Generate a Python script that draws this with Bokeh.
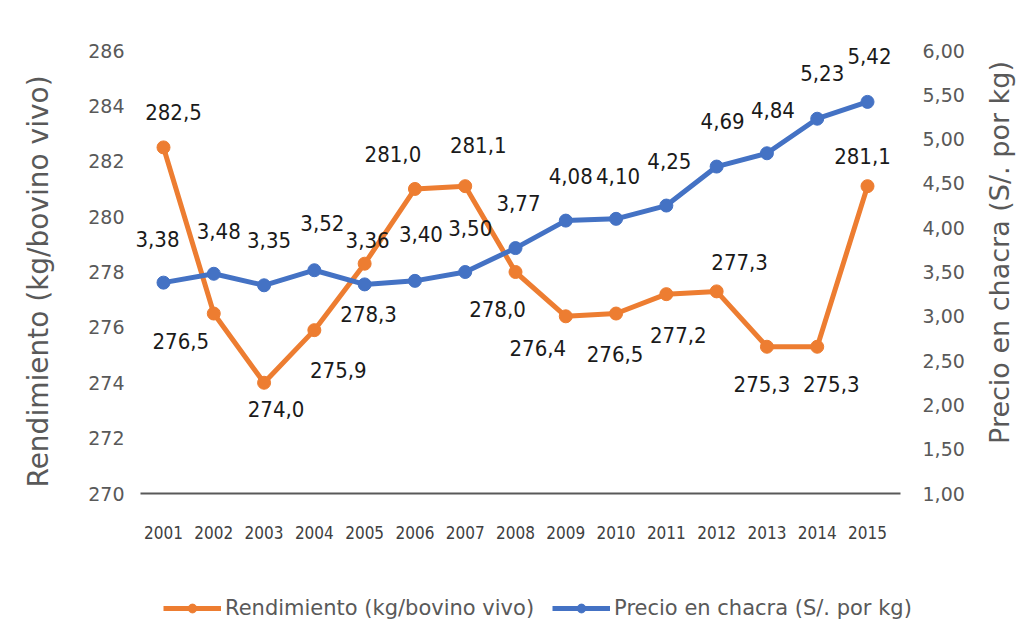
import math
from bokeh.plotting import figure
from bokeh.models import (ColumnDataSource, Range1d, LinearAxis, FixedTicker,
                          LabelSet, Label, Legend, LegendItem)
from bokeh.core.properties import value
from bokeh.embed import file_html
from bokeh.resources import INLINE

# ---------------- data ----------------
years = [2001, 2002, 2003, 2004, 2005, 2006, 2007, 2008,
         2009, 2010, 2011, 2012, 2013, 2014, 2015]
rendimiento = [282.5, 276.5, 274.0, 275.9, 278.3, 281.0, 281.1, 278.0,
               276.4, 276.5, 277.2, 277.3, 275.3, 275.3, 281.1]
precio = [3.38, 3.48, 3.35, 3.52, 3.36, 3.40, 3.50, 3.77,
          4.08, 4.10, 4.25, 4.69, 4.84, 5.23, 5.42]
left_ticks = [270, 272, 274, 276, 278, 280, 282, 284, 286]
right_ticks = [1.0, 1.5, 2.0, 2.5, 3.0, 3.5, 4.0, 4.5, 5.0, 5.5, 6.0]
name_r = "Rendimiento (kg/bovino vivo)"
name_p = "Precio en chacra (S/. por kg)"

# ---------------- label placement (screen px, +down) ----------------
dx_r = [10, -33, 12, 24, 4, -22, 13, -18, -28, -1, 12, 23, -5, 14, -5]
dy_r = [-35, 27, 26, 40, 50, -35, -41, 37, 32, 40, 41, -29, 37, 37, -30]
dx_p = [-6, 5, 5, 8, 3, 6, 5, 3, 5, 2, 3, 6, 6, 5, 2]
dy_p = [-44, -43, -45, -47, -44, -47, -44, -45, -45, -43, -45, -46, -43, -46, -46]

ORANGE = "#ED7D31"
BLUE = "#4472C4"
GRAY = "#595959"
LABEL_FONT = "DejaVu Sans Condensed"
GRAY_FONT = "DejaVu Sans"

W, H = 1018, 634
# plot-area geometry in pixels
X_LEFT, X_RIGHT, Y_BASE = 140, 900, 493
X_FIRST, X_STEP = 163, (867 - 163) / 14
PX_L = 443 / 16      # px per kg (left axis)
PX_R = 443 / 5       # px per S/. (right axis)

src_r = ColumnDataSource(dict(
    x=years, y=rendimiento,
    t=[f"{v:.1f}".replace(".", ",") for v in rendimiento],
    dx=dx_r, dy=[-d for d in dy_r]))
src_p = ColumnDataSource(dict(
    x=years, y=precio,
    t=[f"{v:.2f}".replace(".", ",") for v in precio],
    dx=dx_p, dy=[-d for d in dy_p]))

x0 = years[0] - X_FIRST / X_STEP
x1 = years[0] + (W - X_FIRST) / X_STEP
yl0 = left_ticks[0] - (H - Y_BASE) / PX_L
yl1 = left_ticks[0] + Y_BASE / PX_L
yr0 = right_ticks[0] - (H - Y_BASE) / PX_R
yr1 = right_ticks[0] + Y_BASE / PX_R
xa_lo = years[0] - (X_FIRST - X_LEFT) / X_STEP
xa_hi = years[0] + (X_RIGHT - X_FIRST) / X_STEP

p = figure(width=W, height=H, output_backend="svg", toolbar_location=None,
           x_range=Range1d(x0, x1), y_range=Range1d(yl0, yl1), min_border=0)
p.extra_y_ranges = {"precio": Range1d(yr0, yr1)}
p.outline_line_color = None
p.xgrid.grid_line_color = None
p.ygrid.grid_line_color = None
p.background_fill_color = "white"
p.border_fill_color = "white"

# x axis pinned at the 270 baseline
xa = p.xaxis[0]
xa.fixed_location = left_ticks[0]
xa.bounds = (xa_lo, xa_hi)
xa.ticker = FixedTicker(ticks=years)
xa.major_label_overrides = {y: str(y) for y in years}
xa.major_tick_line_color = None
xa.minor_tick_line_color = None
xa.axis_line_color = GRAY
xa.axis_line_width = 2
xa.major_label_standoff = 26
xa.major_label_text_font = LABEL_FONT
xa.major_label_text_font_size = "17px"
xa.major_label_text_color = "#404040"

# left axis
ya = p.yaxis[0]
ya.fixed_location = xa_lo
ya.ticker = FixedTicker(ticks=left_ticks)
ya.major_tick_line_color = None
ya.minor_tick_line_color = None
ya.axis_line_color = None
ya.major_label_standoff = 10
ya.major_label_text_font = GRAY_FONT
ya.major_label_text_font_size = "19px"
ya.major_label_text_color = GRAY

# right axis
ra = LinearAxis(y_range_name="precio", ticker=FixedTicker(ticks=right_ticks),
                fixed_location=xa_hi)
ra.major_label_overrides = {t: f"{t:.2f}".replace(".", ",") for t in right_ticks}
ra.major_tick_line_color = None
ra.minor_tick_line_color = None
ra.axis_line_color = None
ra.major_label_standoff = 16
ra.major_label_text_font = GRAY_FONT
ra.major_label_text_font_size = "19px"
ra.major_label_text_color = GRAY
p.add_layout(ra, "right")

# axis titles, both reading bottom-to-top
p.add_layout(Label(x=38, y=H - 281, x_units="screen", y_units="screen", text=name_r,
                   angle=math.pi / 2, text_align="center", text_baseline="middle",
                   text_font=GRAY_FONT, text_font_size="28px", text_color=GRAY))
p.add_layout(Label(x=999, y=H - 252, x_units="screen", y_units="screen", text=name_p,
                   angle=math.pi / 2, text_align="center", text_baseline="middle",
                   text_font=GRAY_FONT, text_font_size="27px", text_color=GRAY))

# series
lr = p.line("x", "y", source=src_r, line_color=ORANGE, line_width=5)
sr = p.scatter("x", "y", source=src_r, size=13, fill_color=ORANGE, line_color=ORANGE)
lp = p.line("x", "y", source=src_p, line_color=BLUE, line_width=5, y_range_name="precio")
sp = p.scatter("x", "y", source=src_p, size=13, fill_color=BLUE, line_color=BLUE,
               y_range_name="precio")

lab_r = LabelSet(x="x", y="y", text="t", source=src_r, x_offset="dx", y_offset="dy",
                 text_align="center", text_baseline="middle",
                 text_font=value(LABEL_FONT), text_font_size="22px", text_color="#1a1a1a")
lab_p = LabelSet(x="x", y="y", text="t", source=src_p, x_offset="dx", y_offset="dy",
                 text_align="center", text_baseline="middle", y_range_name="precio",
                 text_font=value(LABEL_FONT), text_font_size="22px", text_color="#1a1a1a")
p.add_layout(lab_r)
p.add_layout(lab_p)

legend = Legend(items=[LegendItem(label=name_r, renderers=[lr, sr]),
                       LegendItem(label=name_p, renderers=[lp, sp])],
                orientation="horizontal", location=(163, H - 620),
                padding=0, margin=0, spacing=18, label_standoff=4,
                glyph_width=58, glyph_height=22,
                label_text_font=GRAY_FONT, label_text_font_size="21px",
                label_text_color=GRAY, border_line_color=None,
                background_fill_alpha=0)
p.add_layout(legend, "center")

open("out.html", "w").write(file_html(p, INLINE))
